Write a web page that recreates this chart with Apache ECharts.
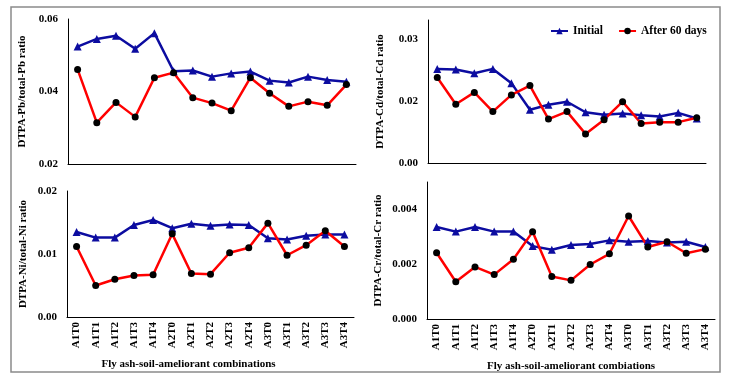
<!DOCTYPE html>
<html>
<head>
<meta charset="utf-8">
<script src="https://cdn.jsdelivr.net/npm/echarts@6/dist/echarts.min.js"></script>
<style>
  html, body { margin: 0; padding: 0; background: #fff; }
  #chart { width: 731px; height: 380px; }
</style>
</head>
<body>
<div id="chart"></div>
<script>
// categories
var combos = ['A1T0', 'A1T1', 'A1T2', 'A1T3', 'A1T4', 'A2T0', 'A2T1', 'A2T2', 'A2T3', 'A2T4', 'A3T0', 'A3T1', 'A3T2', 'A3T3', 'A3T4'];

// Pb
var pbInitial = [0.0524, 0.0545, 0.0554, 0.0518, 0.0561, 0.0456, 0.0458, 0.0441, 0.0450, 0.0455, 0.0430, 0.0425, 0.0441, 0.0432, 0.0427];
var pbAfter = [0.0461, 0.0314, 0.0370, 0.0330, 0.0438, 0.0452, 0.0383, 0.0368, 0.0347, 0.0438, 0.0395, 0.0359, 0.0372, 0.0362, 0.0419];
// Cd
var cdInitial = [0.0252, 0.0251, 0.0245, 0.0252, 0.0229, 0.0186, 0.0194, 0.0199, 0.0182, 0.0178, 0.0180, 0.0177, 0.0175, 0.0181, 0.0172];
var cdAfter = [0.0238, 0.0195, 0.0214, 0.0183, 0.0210, 0.0225, 0.0171, 0.0183, 0.0147, 0.0170, 0.0199, 0.0164, 0.0166, 0.0166, 0.0173];
// Ni
var niInitial = [0.0135, 0.0126, 0.0126, 0.0146, 0.0154, 0.0141, 0.0148, 0.0145, 0.0147, 0.0146, 0.0125, 0.0123, 0.0129, 0.0131, 0.0131];
var niAfter = [0.0112, 0.0050, 0.0060, 0.0066, 0.0067, 0.0132, 0.0069, 0.0068, 0.0102, 0.0110, 0.0149, 0.0098, 0.0114, 0.0137, 0.0112];
// Cr
var crInitial = [0.00336, 0.00319, 0.00336, 0.00319, 0.00319, 0.00266, 0.00253, 0.00270, 0.00274, 0.00287, 0.00282, 0.00285, 0.00279, 0.00282, 0.00263];
var crAfter = [0.00242, 0.00136, 0.00190, 0.00162, 0.00218, 0.00318, 0.00155, 0.00141, 0.00199, 0.00238, 0.00376, 0.00263, 0.00282, 0.00240, 0.00255];

// tick labels (Cd panel prints 0.00 on its bottom tick)
var cdTickValues = [0.01, 0.02, 0.03];
var cdTickLabels = ['0.00', '0.02', '0.03'];

var FONT = 'Liberation Serif';
var BLUE = '#0c0ca0';
var RED = '#ff0000';

var myChart = echarts.init(document.getElementById('chart'));

function yAx(idx, name, min, max, interval, gap, showMax, fmt) {
    return {
        type: 'value',
        gridIndex: idx,
        min: min,
        max: max,
        interval: interval,
        name: name,
        nameLocation: 'middle',
        nameRotate: 90,
        nameGap: gap,
        nameTextStyle: { fontFamily: FONT, fontWeight: 'bold', fontSize: 11, color: '#000' },
        axisLine: { show: true, lineStyle: { color: '#000', width: 1 } },
        axisTick: { show: false },
        splitLine: { show: false },
        axisLabel: {
            fontFamily: FONT, fontWeight: 'bold', fontSize: 11, color: '#000',
            margin: 10,
            showMaxLabel: showMax,
            formatter: fmt
        }
    };
}

function xAx(idx, showLabels, name) {
    return {
        type: 'category',
        gridIndex: idx,
        data: combos,
        boundaryGap: true,
        name: name || '',
        nameLocation: 'middle',
        nameGap: 42,
        nameTextStyle: { fontFamily: FONT, fontWeight: 'bold', fontSize: 11, color: '#000' },
        axisLine: { lineStyle: { color: '#000', width: 1 } },
        axisTick: { show: false },
        splitLine: { show: false },
        axisLabel: {
            show: showLabels,
            rotate: 90,
            interval: 0,
            margin: 5,
            fontFamily: FONT, fontWeight: 'bold', fontSize: 11, color: '#000'
        }
    };
}

function pair(idx, initial, after) {
    return [
        {
            name: 'Initial', type: 'line', xAxisIndex: idx, yAxisIndex: idx,
            data: initial, symbol: 'triangle', symbolSize: 8,
            itemStyle: { color: BLUE },
            lineStyle: { color: BLUE, width: 2.5 },
            animation: false
        },
        {
            name: 'After 60 days', type: 'line', xAxisIndex: idx, yAxisIndex: idx,
            data: after, symbol: 'circle', symbolSize: 7,
            itemStyle: { color: '#000' },
            lineStyle: { color: RED, width: 2.5 },
            animation: false
        }
    ];
}

var options = {
    backgroundColor: '#fff',
    graphic: [{
        type: 'rect',
        shape: { x: 11, y: 7, width: 709, height: 365 },
        style: { fill: 'none', stroke: '#8a8a8a', lineWidth: 1.5 },
        silent: true
    }],
    legend: {
        left: 545,
        top: 20,
        itemWidth: 17,
        itemHeight: 8,
        itemGap: 15,
        textStyle: { fontFamily: FONT, fontWeight: 'bold', fontSize: 11.5, color: '#000' },
        data: ['Initial', 'After 60 days']
    },
    grid: [
        { left: 68, right: 375, top: 19, bottom: 216 },
        { left: 428, right: 25, top: 20, bottom: 217 },
        { left: 67, right: 377, top: 191, bottom: 63 },
        { left: 427, right: 16, top: 182, bottom: 61 }
    ],
    xAxis: [
        xAx(0, false),
        xAx(1, false),
        (function () { var a = xAx(2, true, 'Fly ash-soil-ameliorant combinations'); a.nameTextStyle.padding = [0, 44, 0, 0]; return a; })(),
        xAx(3, true, 'Fly ash-soil-ameliorant combiations')
    ],
    yAxis: [
        yAx(0, 'DTPA-Pb/total-Pb ratio', 0.02, 0.06, 0.02, 40, true, function (v) { return v.toFixed(2); }),
        yAx(1, 'DTPA-Cd/total-Cd ratio', 0.01, 0.0331, 0.01, 42, false, function (v) {
            for (var i = 0; i < cdTickValues.length; i++) {
                if (Math.abs(v - cdTickValues[i]) < 1e-9) return cdTickLabels[i];
            }
            return '';
        }),
        yAx(2, 'DTPA-Ni/total-Ni ratio', 0, 0.02, 0.01, 38, true, function (v) { return v.toFixed(2); }),
        yAx(3, 'DTPA-Cr/total-Cr ratio', 0, 0.005, 0.002, 43, false, function (v) { return v.toFixed(3); })
    ],
    series: [].concat(
        pair(0, pbInitial, pbAfter),
        pair(1, cdInitial, cdAfter),
        pair(2, niInitial, niAfter),
        pair(3, crInitial, crAfter)
    )
};

myChart.setOption(options);
window.addEventListener('resize', function () {
    myChart.resize();
});
</script>
</body>
</html>
